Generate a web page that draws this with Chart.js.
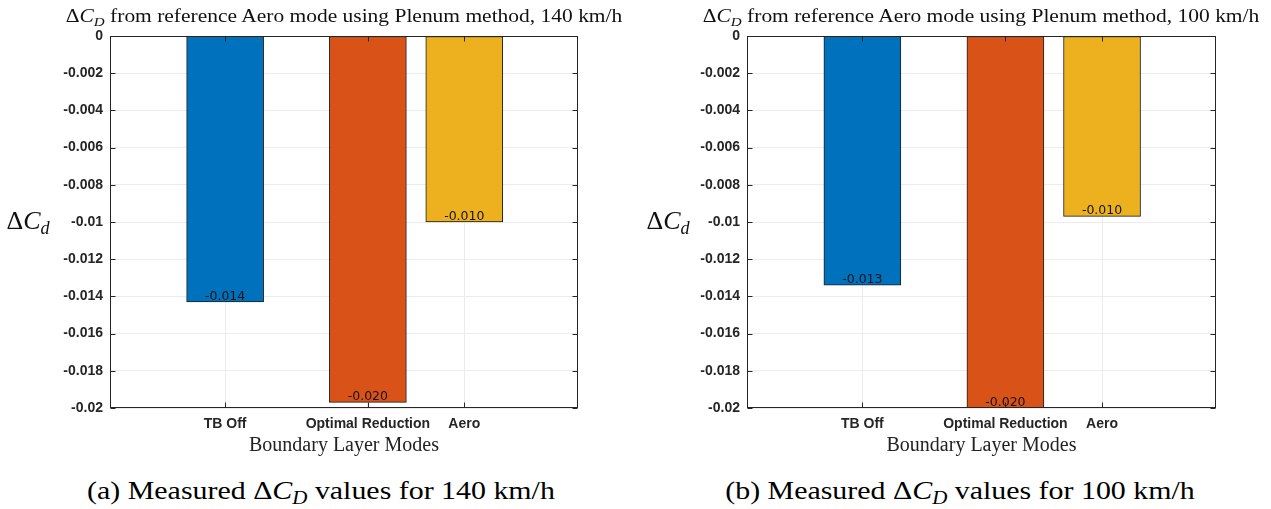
<!DOCTYPE html>
<html>
<head>
<meta charset="utf-8">
<script src="https://cdn.jsdelivr.net/npm/chart.js@4.4.1/dist/chart.umd.min.js"></script>
<style>
  html, body { margin: 0; padding: 0; background: #fff; }
  #page { position: relative; width: 1271px; height: 509px; overflow: hidden; background: #fff; }
  .panel { position: absolute; top: 0; height: 460px; }
  .panel canvas { position: absolute; left: 0; top: 0; }
  .title {
    position: absolute; top: 5px; width: 700px; text-align: center; white-space: nowrap;
    font-family: 'Liberation Serif', serif; font-size: 19px; color: #111;
    transform: scaleX(1.13); transform-origin: 50% 50%;
  }
  .ylab {
    position: absolute; top: 206px; width: 60px; text-align: center; white-space: nowrap;
    font-family: 'Liberation Serif', serif; font-size: 26px; color: #111;
  }
  .ylab sub, .title sub, .caption sub { font-size: 0.7em; vertical-align: -0.3em; line-height: 0; }
  .caption {
    position: absolute; top: 476px; width: 640px; text-align: center; white-space: nowrap;
    font-family: 'Liberation Serif', serif; font-size: 26px; color: #000;
    transform: scaleX(1.15); transform-origin: 50% 50%;
  }
</style>
</head>
<body>
<div id="page">
  <div class="panel" style="left:0px;width:640px;">
    <canvas id="chart140" width="640" height="460"></canvas>
    <div class="title" style="left:-6px;">Δ<i>C</i><sub><i>D</i></sub> from reference Aero mode using Plenum method, 140 km/h</div>
    <div class="ylab" style="left:-2px;">Δ<i>C</i><sub><i>d</i></sub></div>
  </div>
  <div class="panel" style="left:640px;width:631px;">
    <canvas id="chart100" width="631" height="460"></canvas>
    <div class="title" style="left:-9px;">Δ<i>C</i><sub><i>D</i></sub> from reference Aero mode using Plenum method, 100 km/h</div>
    <div class="ylab" style="left:-2px;">Δ<i>C</i><sub><i>d</i></sub></div>
  </div>
  <div class="caption" style="left:1px;">(a) Measured Δ<i>C</i><sub><i>D</i></sub> values for 140 km/h</div>
  <div class="caption" style="left:640px;">(b) Measured Δ<i>C</i><sub><i>D</i></sub> values for 100 km/h</div>
</div>

<script>
// Boundary layer modes and measured drag coefficient changes
const categories = ['TB Off', 'Optimal Reduction', 'Aero'];
const deltaCd140 = [-0.0143, -0.0197, -0.0100];
const deltaCd100 = [-0.0134, -0.0200, -0.0097];
const yTickStep = 0.002;
const yMin = -0.02;
const yMax = 0;

// Layout: where each mode sits along the horizontal axis (0..1)
const slotCentres = [0.246, 0.551, 0.757];
const barColours = ['#0072BD', '#D95319', '#EDB120'];

function formatTick(v) {
  const r = Math.round(v * 1000) / 1000;
  return r === 0 ? '0' : String(r);
}

// Boxed axes with inward tick marks on all four sides
const framePlugin = {
  id: 'frame',
  afterDatasetsDraw(chart) {
    const { ctx, chartArea: a, scales } = chart;
    const L = Math.round(a.left) + 0.5, R = Math.round(a.right) - 0.5;
    const T = Math.round(a.top) + 0.5, B = Math.round(a.bottom) - 0.5;
    ctx.save();
    ctx.strokeStyle = '#262626';
    ctx.lineWidth = 1;
    ctx.strokeRect(L, T, R - L, B - T);
    const len = 5;
    ctx.beginPath();
    scales.y.ticks.forEach(tk => {
      const y = Math.round(scales.y.getPixelForValue(tk.value)) + 0.5;
      ctx.moveTo(L, y); ctx.lineTo(L + len, y);
      ctx.moveTo(R, y); ctx.lineTo(R - len, y);
    });
    scales.x.ticks.forEach(tk => {
      const x = Math.round(scales.x.getPixelForValue(tk.value)) + 0.5;
      ctx.moveTo(x, B); ctx.lineTo(x, B - len);
      ctx.moveTo(x, T); ctx.lineTo(x, T + len);
    });
    ctx.stroke();
    ctx.restore();
  }
};

// Value printed at the end of each bar
const valueLabelPlugin = {
  id: 'valueLabels',
  afterDatasetsDraw(chart) {
    const { ctx } = chart;
    const ds = chart.data.datasets[0];
    chart.getDatasetMeta(0).data.forEach((bar, i) => {
      const v = ds.data[i].y;
      ctx.save();
      ctx.font = '12.5px "DejaVu Sans", sans-serif';
      ctx.fillStyle = '#141414';
      ctx.textAlign = 'center';
      ctx.textBaseline = 'bottom';
      ctx.fillText(v.toFixed(3), bar.x, bar.y + 1);
      ctx.restore();
    });
  }
};

const tickFont = { family: '"Liberation Sans", Arial, sans-serif', size: 14, weight: 'bold' };

function buildChart(canvasId, values, rightPad, axisWidth) {
  return new Chart(document.getElementById(canvasId), {
    type: 'bar',
    data: {
      datasets: [{
        data: categories.map((c, i) => ({ x: slotCentres[i], y: values[i] })),
        backgroundColor: barColours,
        borderColor: '#1c1c1c',
        borderWidth: 1,
        borderSkipped: false,
        barThickness: 77
      }]
    },
    options: {
      responsive: false,
      animation: false,
      layout: { padding: { left: 0, right: rightPad, top: 36, bottom: 2 } },
      plugins: {
        legend: { display: false },
        tooltip: { enabled: false },
        title: { display: false }
      },
      scales: {
        x: {
          type: 'linear',
          offset: false,
          min: 0,
          max: 1,
          afterBuildTicks: s => { s.ticks = slotCentres.map(v => ({ value: v })); },
          afterFit: s => { s.height = 50; },
          ticks: {
            callback: (v, i) => categories[i],
            autoSkip: false,
            maxRotation: 0,
            padding: 8,
            color: '#262626',
            font: tickFont
          },
          grid: { color: '#ececec', drawTicks: false, offset: false },
          border: { display: false },
          title: {
            display: true,
            text: 'Boundary Layer Modes',
            color: '#222',
            padding: { top: 0, bottom: 0 },
            font: { family: '"Liberation Serif", serif', size: 20 }
          }
        },
        y: {
          min: yMin,
          max: yMax,
          afterFit: s => { s.width = axisWidth; },
          ticks: {
            stepSize: yTickStep,
            callback: v => formatTick(v),
            padding: 7,
            color: '#262626',
            font: tickFont
          },
          grid: { color: '#ececec', drawTicks: false },
          border: { display: false }
        }
      }
    },
    plugins: [framePlugin, valueLabelPlugin]
  });
}

buildChart('chart140', deltaCd140, 62, 110);
buildChart('chart100', deltaCd100, 55, 107);
</script>
</body>
</html>
